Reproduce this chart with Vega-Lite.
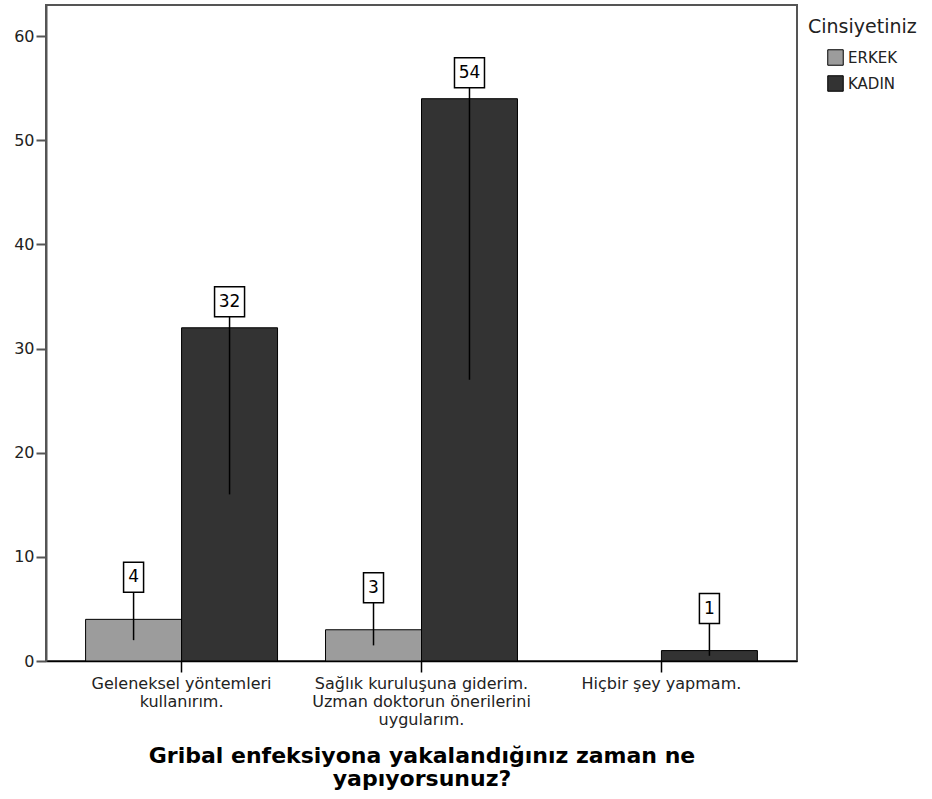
{
  "$schema": "https://vega.github.io/schema/vega-lite/v6.json",
  "width": 751,
  "height": 656,
  "autosize": {"type": "none"},
  "padding": {"left": 46, "top": 5, "right": 135, "bottom": 138},
  "background": "white",
  "config": {"view": {"stroke": "#555555", "strokeWidth": 2}, "font": "DejaVu Sans"},
  "data": {"values": [
    {"cat": "Geleneksel yöntemleri kullanırım.", "gender": "ERKEK", "n": 4},
    {"cat": "Geleneksel yöntemleri kullanırım.", "gender": "KADIN", "n": 32},
    {"cat": "Sağlık kuruluşuna giderim. Uzman doktorun önerilerini uygularım.", "gender": "ERKEK", "n": 3},
    {"cat": "Sağlık kuruluşuna giderim. Uzman doktorun önerilerini uygularım.", "gender": "KADIN", "n": 54},
    {"cat": "Hiçbir şey yapmam.", "gender": "KADIN", "n": 1}
  ]},
  "encoding": {
    "x": {
      "field": "cat", "type": "nominal",
      "sort": ["Geleneksel yöntemleri kullanırım.", "Sağlık kuruluşuna giderim. Uzman doktorun önerilerini uygularım.", "Hiçbir şey yapmam."],
      "scale": {"paddingInner": 0.2, "paddingOuter": 0.165},
      "axis": {
        "title": ["Gribal enfeksiyona yakalandığınız zaman ne", "yapıyorsunuz?"],
        "titleFont": "DejaVu Sans", "titleFontSize": 22, "titleFontWeight": "bold", "titleColor": "black",
        "titlePadding": 18, "titleLineHeight": 23,
        "labelAngle": 0, "labelFont": "DejaVu Sans", "labelFontSize": 16, "labelColor": "#222222", "labelLineHeight": 18,
        "labelLimit": 400, "labelPadding": 3, "labelBaseline": "top",
        "labelExpr": "datum.value == 'Geleneksel yöntemleri kullanırım.' ? ['Geleneksel yöntemleri', 'kullanırım.'] : (datum.value == 'Sağlık kuruluşuna giderim. Uzman doktorun önerilerini uygularım.' ? ['Sağlık kuruluşuna giderim.', 'Uzman doktorun önerilerini', 'uygularım.'] : datum.value)",
        "tickSize": 11, "tickColor": "black", "tickWidth": 1.5,
        "domainColor": "black", "domainWidth": 1.5
      }
    },
    "xOffset": {"field": "gender", "type": "nominal", "sort": ["ERKEK", "KADIN"]}
  },
  "layer": [
    {
      "mark": {"type": "bar", "stroke": "black", "strokeWidth": 1},
      "encoding": {
        "y": {
          "field": "n", "type": "quantitative",
          "scale": {"domain": [0, 63], "nice": false},
          "axis": {
            "title": null, "values": [0, 10, 20, 30, 40, 50, 60], "grid": false,
            "labelFont": "DejaVu Sans", "labelFontSize": 16, "labelColor": "#222222", "labelPadding": 2,
            "tickSize": 10, "tickWidth": 2, "tickColor": "#555555",
            "domainColor": "#555555", "domainWidth": 2
          }
        },
        "color": {
          "field": "gender", "type": "nominal",
          "scale": {"domain": ["ERKEK", "KADIN"], "range": ["#9c9c9c", "#333333"]},
          "legend": {
            "title": "Cinsiyetiniz", "orient": "none", "legendX": 762, "legendY": 13,
            "titleFont": "DejaVu Sans", "titleFontSize": 19, "titleFontWeight": "normal", "titleColor": "#222222",
            "titlePadding": 12, "symbolType": "square", "symbolSize": 240,
            "symbolStrokeColor": "black", "symbolStrokeWidth": 1, "symbolOffset": 19,
            "labelFont": "DejaVu Sans", "labelFontSize": 15, "labelColor": "#222222", "labelOffset": 4, "rowPadding": 5
          }
        }
      }
    },
    {
      "transform": [{"calculate": "datum.n / 2", "as": "mid"}, {"filter": "datum.n < 10"}],
      "mark": {"type": "rule", "color": "black", "strokeWidth": 1.5, "y2Offset": -42},
      "encoding": {"y": {"field": "mid", "type": "quantitative"}, "y2": {"field": "n"}}
    },
    {
      "transform": [{"calculate": "datum.n / 2", "as": "mid"}, {"filter": "datum.n >= 10"}],
      "mark": {"type": "rule", "color": "black", "strokeWidth": 1.5, "y2Offset": -26},
      "encoding": {"y": {"field": "mid", "type": "quantitative"}, "y2": {"field": "n"}}
    },
    {
      "transform": [{"filter": "datum.n < 10"}],
      "mark": {"type": "point", "shape": "M-0.667,-1H0.667V1H-0.667Z", "size": 900, "filled": true, "fill": "white", "stroke": "black", "strokeWidth": 1.5, "opacity": 1, "yOffset": -42},
      "encoding": {"y": {"field": "n", "type": "quantitative"}}
    },
    {
      "transform": [{"filter": "datum.n >= 10"}],
      "mark": {"type": "point", "shape": "M-1,-1H1V1H-1Z", "size": 900, "filled": true, "fill": "white", "stroke": "black", "strokeWidth": 1.5, "opacity": 1, "yOffset": -26},
      "encoding": {"y": {"field": "n", "type": "quantitative"}}
    },
    {
      "transform": [{"filter": "datum.n < 10"}],
      "mark": {"type": "text", "font": "DejaVu Sans", "fontSize": 17, "color": "black", "baseline": "middle", "align": "center", "yOffset": -42},
      "encoding": {"y": {"field": "n", "type": "quantitative"}, "text": {"field": "n", "type": "quantitative"}}
    },
    {
      "transform": [{"filter": "datum.n >= 10"}],
      "mark": {"type": "text", "font": "DejaVu Sans", "fontSize": 17, "color": "black", "baseline": "middle", "align": "center", "yOffset": -26},
      "encoding": {"y": {"field": "n", "type": "quantitative"}, "text": {"field": "n", "type": "quantitative"}}
    }
  ]
}
